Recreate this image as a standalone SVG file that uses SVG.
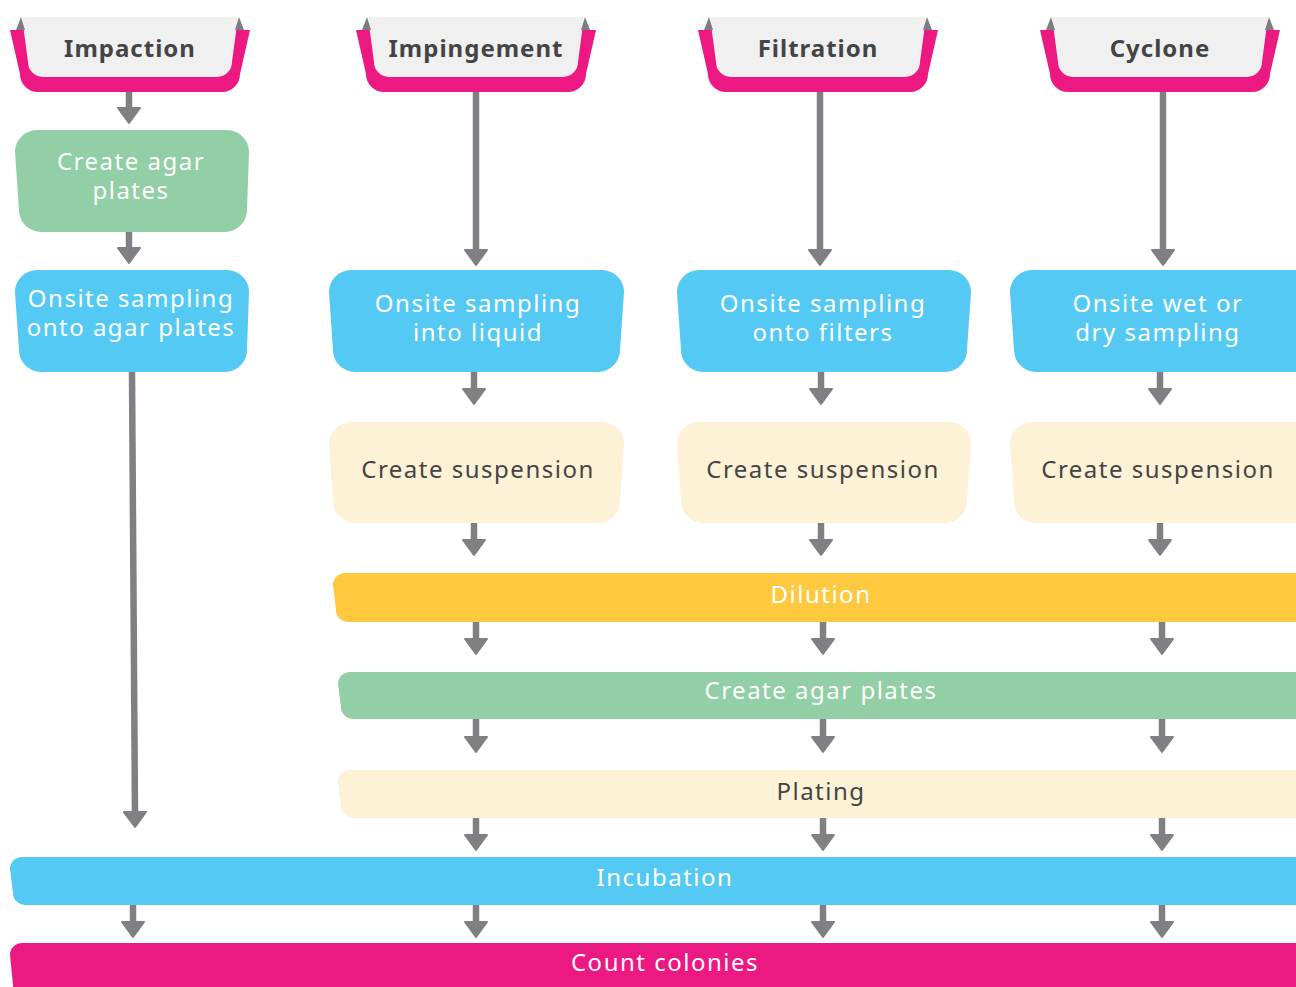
<svg xmlns="http://www.w3.org/2000/svg" width="1296" height="987" viewBox="0 0 1296 987">
<style>
.t{font-family:"Noto Sans","Liberation Sans",sans-serif;font-size:24px;letter-spacing:1.5px;text-anchor:middle;fill:#ffffff}
.d{fill:#444446}
.h{font-family:"Noto Sans","Liberation Sans",sans-serif;font-size:24px;letter-spacing:1px;font-weight:bold;text-anchor:middle;fill:#444446}
.pink{fill:#EC1982}
.hg{fill:#F0F0F0}
.fold{fill:#7D7D80}
.blue{fill:#54C9F4}
.green{fill:#92CEA6}
.cream{fill:#FDF1D6}
.yellow{fill:#FEC83F}
.conn line{stroke:#808084;stroke-width:6.5;marker-end:url(#ah)}
</style>
<defs>
<marker id="ah" markerUnits="userSpaceOnUse" markerWidth="18" markerHeight="26" viewBox="0 0 18 26" refX="6" refY="13" orient="auto">
<path d="M1,2 L16,13 L1,24 Z" fill="#808084" stroke="#808084" stroke-width="2" stroke-linejoin="round"/>
</marker>
<g id="hdr">
<path class="pink" d="M10,30 H250 L240,74 A18 18 0 0 1 222,92 H38 A18 18 0 0 1 20,74 Z"/>
<path class="hg" d="M22,17 H238 L232,62 A15 15 0 0 1 217,77 H43 A15 15 0 0 1 28,62 Z"/>
<path class="fold" d="M16,30 L21,17 L25,30 Z"/>
<path class="fold" d="M235,30 L239,17 L244,30 Z"/>
</g>
</defs>

<g id="connectors" class="conn">
<line x1="129" y1="92" x2="129" y2="113"/>
<line x1="129" y1="232" x2="129" y2="253"/>
<line x1="132" y1="372" x2="135" y2="817"/>
<line x1="476" y1="92" x2="476" y2="255"/>
<line x1="820" y1="92" x2="820" y2="255"/>
<line x1="1163" y1="92" x2="1163" y2="255"/>
<line x1="474" y1="372" x2="474" y2="394"/>
<line x1="821" y1="372" x2="821" y2="394"/>
<line x1="1160" y1="372" x2="1160" y2="394"/>
<line x1="474" y1="522" x2="474" y2="545"/>
<line x1="821" y1="522" x2="821" y2="545"/>
<line x1="1160" y1="522" x2="1160" y2="545"/>
<line x1="476" y1="621" x2="476" y2="644"/>
<line x1="823" y1="621" x2="823" y2="644"/>
<line x1="1162" y1="621" x2="1162" y2="644"/>
<line x1="476" y1="719" x2="476" y2="742"/>
<line x1="823" y1="719" x2="823" y2="742"/>
<line x1="1162" y1="719" x2="1162" y2="742"/>
<line x1="476" y1="817" x2="476" y2="840"/>
<line x1="823" y1="817" x2="823" y2="840"/>
<line x1="1162" y1="817" x2="1162" y2="840"/>
<line x1="133" y1="904" x2="133" y2="927"/>
<line x1="476" y1="904" x2="476" y2="927"/>
<line x1="823" y1="904" x2="823" y2="927"/>
<line x1="1162" y1="904" x2="1162" y2="927"/>
</g>

<g id="h-impaction"><use href="#hdr"/><text class="h" x="130" y="57">Impaction</text></g>
<g id="h-impingement" transform="translate(346,0)"><use href="#hdr"/><text class="h" x="130" y="57">Impingement</text></g>
<g id="h-filtration" transform="translate(688,0)"><use href="#hdr"/><text class="h" x="130" y="57">Filtration</text></g>
<g id="h-cyclone" transform="translate(1030,0)"><use href="#hdr"/><text class="h" x="130" y="57">Cyclone</text></g>

<g id="n-agar1">
<path class="green" d="M37,130 H227 A22 22 0 0 1 249,152 L247,210 A22 22 0 0 1 225,232 H41 A22 22 0 0 1 19,210 L15,152 A22 22 0 0 1 37,130 Z"/>
<text class="t" x="131" y="170">Create agar</text>
<text class="t" x="131" y="199">plates</text>
</g>
<g id="n-onsite-agar">
<path class="blue" d="M37,270 H227 A22 22 0 0 1 249,292 L247,350 A22 22 0 0 1 225,372 H41 A22 22 0 0 1 19,350 L15,292 A22 22 0 0 1 37,270 Z"/>
<text class="t" x="131" y="307">Onsite sampling</text>
<text class="t" x="131" y="336">onto agar plates</text>
</g>

<g id="n-onsite-liquid">
<path class="blue" d="M351,270 H602 A22 22 0 0 1 624,292 L620,350 A22 22 0 0 1 598,372 H355 A22 22 0 0 1 333,350 L329,292 A22 22 0 0 1 351,270 Z"/>
<text class="t" x="478" y="312">Onsite sampling</text>
<text class="t" x="478" y="341">into liquid</text>
</g>
<g id="n-susp1">
<path class="cream" d="M351,422 H602 A22 22 0 0 1 624,444 L620,501 A22 22 0 0 1 598,523 H355 A22 22 0 0 1 333,501 L329,444 A22 22 0 0 1 351,422 Z"/>
<text class="t d" x="478" y="478">Create suspension</text>
</g>

<g id="n-onsite-filters">
<path class="blue" d="M699,270 H949 A22 22 0 0 1 971,292 L967,350 A22 22 0 0 1 945,372 H703 A22 22 0 0 1 681,350 L677,292 A22 22 0 0 1 699,270 Z"/>
<text class="t" x="823" y="312">Onsite sampling</text>
<text class="t" x="823" y="341">onto filters</text>
</g>
<g id="n-susp2">
<path class="cream" d="M699,422 H949 A22 22 0 0 1 971,444 L967,501 A22 22 0 0 1 945,523 H703 A22 22 0 0 1 681,501 L677,444 A22 22 0 0 1 699,422 Z"/>
<text class="t d" x="823" y="478">Create suspension</text>
</g>

<g id="n-onsite-wetdry">
<path class="blue" d="M1032,270 H1310 V372 H1036 A22 22 0 0 1 1014,350 L1010,292 A22 22 0 0 1 1032,270 Z"/>
<text class="t" x="1158" y="312">Onsite wet or</text>
<text class="t" x="1158" y="341">dry sampling</text>
</g>
<g id="n-susp3">
<path class="cream" d="M1032,422 H1310 V523 H1036 A22 22 0 0 1 1014,501 L1010,444 A22 22 0 0 1 1032,422 Z"/>
<text class="t d" x="1158" y="478">Create suspension</text>
</g>

<g id="n-dilution">
<path class="yellow" d="M345,573 H1310 V622 H349 A12 12 0 0 1 336,610 L333,585 A12 12 0 0 1 345,573 Z"/>
<text class="t" x="821" y="603">Dilution</text>
</g>
<g id="n-agar2">
<path class="green" d="M350,672 H1310 V719 H354 A12 12 0 0 1 341,707 L338,684 A12 12 0 0 1 350,672 Z"/>
<text class="t" x="821" y="699">Create agar plates</text>
</g>
<g id="n-plating">
<path class="cream" d="M350,770 H1310 V818 H354 A12 12 0 0 1 341,806 L338,782 A12 12 0 0 1 350,770 Z"/>
<text class="t d" x="821" y="800">Plating</text>
</g>
<g id="n-incubation">
<path class="blue" d="M22,857 H1310 V905 H26 A12 12 0 0 1 13,893 L10,869 A12 12 0 0 1 22,857 Z"/>
<text class="t" x="665" y="886">Incubation</text>
</g>
<g id="n-count">
<path class="pink" d="M22,943 H1310 V995 H14 L10,955 A12 12 0 0 1 22,943 Z"/>
<text class="t" x="665" y="971">Count colonies</text>
</g>
</svg>
